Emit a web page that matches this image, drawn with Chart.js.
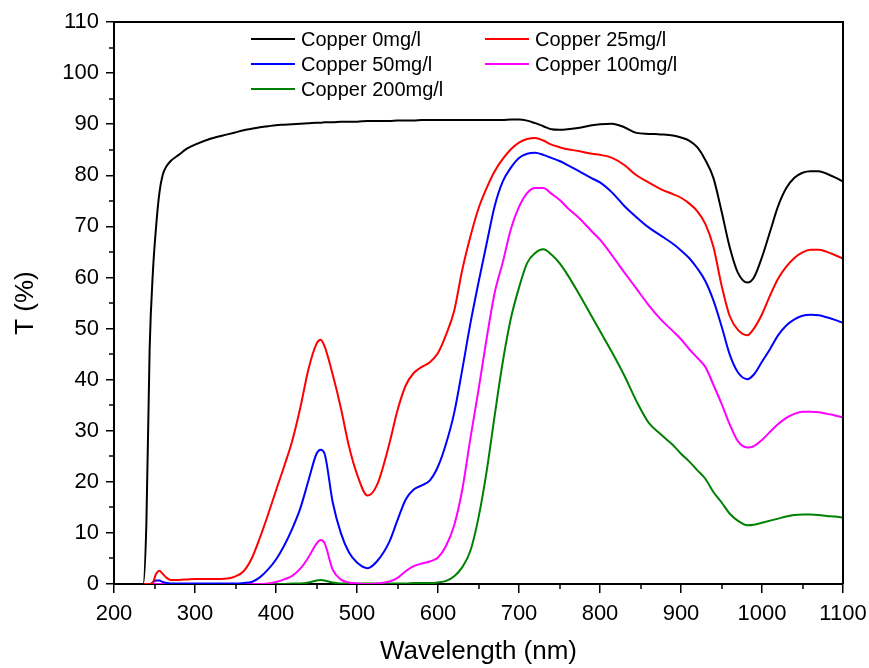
<!DOCTYPE html>
<html>
<head>
<meta charset="utf-8">
<script src="https://cdn.jsdelivr.net/npm/chart.js@4/dist/chart.umd.min.js"></script>
<style>
  html, body { margin: 0; padding: 0; background: #fff; }
  #wrap { width: 869px; height: 668px; }
</style>
</head>
<body>
<div id="wrap"><canvas id="transChart" width="869" height="668"></canvas></div>
<script>
// wavelength grid (nm)
const wavelength = [200, 230, 236, 240, 244, 248, 252, 256, 260, 265, 270, 280, 290, 300, 320, 340, 350, 360, 370, 380,
  390, 400, 410, 420, 430, 440, 450, 455, 460, 470, 480, 490, 500, 513, 525, 540, 550, 560, 570, 580,
  590, 600, 610, 620, 630, 640, 650, 660, 670, 680, 690, 700, 710, 720, 730, 740, 750, 760, 775, 790,
  800, 815, 830, 845, 860, 875, 890, 900, 910, 920, 930, 940, 950, 960, 970, 982, 990, 1000, 1010, 1020,
  1030, 1040, 1050, 1060, 1070, 1080, 1090, 1100];

// transmittance (%) per copper concentration
const cu0 = [0, 0, 0, 12, 46, 61, 70, 76.5, 80, 81.8, 82.8, 84, 85.2, 86, 87.2, 88, 88.4, 88.8, 89.1, 89.4,
  89.6, 89.8, 89.9, 90.0, 90.1, 90.2, 90.3, 90.3, 90.4, 90.4, 90.5, 90.5, 90.5, 90.6, 90.6, 90.6, 90.7, 90.7, 90.7, 90.8,
  90.8, 90.8, 90.8, 90.8, 90.8, 90.8, 90.8, 90.8, 90.8, 90.8, 90.9, 90.9, 90.7, 90.2, 89.6, 89.0, 88.9, 89.0, 89.3, 89.8,
  90.0, 90.1, 89.4, 88.3, 88.1, 88.0, 87.8, 87.4, 86.8, 85.5, 83, 79.5, 73, 66, 61, 59, 60, 64, 69, 74,
  77.5, 79.5, 80.5, 80.8, 80.8, 80.3, 79.6, 78.8];

const cu25 = [0, 0, 0, 0, 0, 0.3, 2.0, 2.6, 2.0, 1.2, 0.8, 0.8, 0.9, 1.0, 1.0, 1.1, 1.5, 2.5, 5, 9,
  13.5, 18.3, 23, 28, 34.5, 42, 47, 47.8, 46.5, 41, 34.5, 27, 21.5, 17.3, 19.5, 27.5, 34, 38.8, 41.3, 42.5,
  43.4, 45.2, 48.8, 53.5, 61.5, 68, 73.5, 77.5, 80.8, 83.2, 85.1, 86.4, 87.1, 87.3, 86.8, 86, 85.5, 85.1, 84.7, 84.2,
  84.0, 83.4, 82, 80, 78.6, 77.3, 76.3, 75.6, 74.5, 73, 70.5, 66, 58.5, 52.5, 49.8, 48.7, 50, 52.8, 56.5, 59.8,
  62.1, 63.8, 64.9, 65.4, 65.4, 65, 64.4, 63.7];

const cu50 = [0, 0, 0, 0, 0, 0.3, 0.7, 0.7, 0.4, 0.2, 0.1, 0.1, 0.1, 0.1, 0.1, 0.1, 0.1, 0.2, 0.4, 1.3,
  2.8, 4.8, 7.5, 10.8, 14.8, 20.2, 25.5, 26.3, 25.5, 16, 10, 6.2, 4.2, 3.1, 4.5, 8.3, 12.5, 16.5, 18.5, 19.3,
  20.3, 23, 27.5, 33.5, 42, 51, 59, 66.6, 74, 78.8, 81.5, 83.4, 84.2, 84.4, 84.0, 83.4, 82.8, 82, 80.7, 79.4,
  78.6, 76.6, 74, 71.8, 69.8, 68.2, 66.6, 65.3, 63.8, 61.8, 59.3, 55.5, 50.5, 45, 41.5, 40.1, 41, 43.5, 46, 48.7,
  50.6, 51.8, 52.5, 52.7, 52.6, 52.2, 51.7, 51.1];

const cu100 = [0, 0, 0, 0, 0, 0, 0, 0, 0, 0, 0, 0, 0, 0, 0, 0, 0, 0, 0, 0,
  0.1, 0.4, 0.9, 1.6, 3.0, 5.2, 7.9, 8.6, 8.0, 2.8, 0.9, 0.3, 0.1, 0, 0.1, 0.5, 1.2, 2.5, 3.5, 4.0,
  4.4, 5.2, 7.5, 11.5, 18.5, 28.5, 38, 48, 57, 63, 69.5, 73.8, 76.5, 77.5, 77.5, 76.4, 75.2, 73.6, 71.5, 69,
  67.4, 64.3, 61, 57.8, 54.6, 51.8, 49.5, 47.9, 46, 44.3, 42.5, 39, 35.3, 31.3, 28, 26.7, 27, 28.2, 29.8, 31.3,
  32.5, 33.3, 33.7, 33.7, 33.6, 33.3, 33, 32.6];

const cu200 = [0, 0, 0, 0, 0, 0, 0, 0, 0, 0, 0, 0, 0, 0, 0, 0, 0, 0, 0, 0,
  0, 0, 0, 0.1, 0.1, 0.3, 0.7, 0.8, 0.7, 0.3, 0.1, 0.1, 0.1, 0.1, 0.1, 0.1, 0.1, 0.1, 0.2, 0.2,
  0.2, 0.3, 0.6, 1.5, 3.3, 6.5, 13, 22, 33, 43.5, 52, 58, 62.8, 64.8, 65.5, 64.5, 62.8, 60.5, 56.5, 52.3,
  49.5, 45.3, 40.8, 35.8, 31.6, 29.3, 27.2, 25.5, 24, 22.3, 20.6, 18, 16, 13.8, 12.4, 11.5, 11.6, 12, 12.4, 12.8,
  13.2, 13.5, 13.6, 13.6, 13.5, 13.3, 13.2, 13.0];

const seriesLabels = ['Copper 0mg/l', 'Copper 25mg/l', 'Copper 50mg/l', 'Copper 100mg/l', 'Copper 200mg/l'];
const seriesColors = ['#000000', '#ff0000', '#0000ff', '#ff00ff', '#008000'];
const seriesValues = [cu0, cu25, cu50, cu100, cu200];

const FONT = '"Liberation Sans", Arial, sans-serif';

function toPoints(vals) {
  return wavelength.map((w, i) => ({ x: w, y: vals[i] }));
}

// minor ticks + top/right frame
const framePlugin = {
  id: 'frame',
  afterDraw(chart) {
    const c = chart.ctx;
    const a = chart.chartArea;
    const xs = chart.scales.x, ys = chart.scales.y;
    c.save();
    c.strokeStyle = '#000';
    c.lineWidth = 2;
    c.beginPath();
    c.moveTo(a.left, a.top); c.lineTo(a.right, a.top); c.lineTo(a.right, a.bottom);
    c.stroke();
    c.lineWidth = 1.5;
    c.beginPath();
    for (let v = 250; v < 1100; v += 100) {
      const px = Math.round(xs.getPixelForValue(v));
      c.moveTo(px, a.bottom); c.lineTo(px, a.bottom + 5);
    }
    for (let v = 5; v < 110; v += 10) {
      const py = Math.round(ys.getPixelForValue(v));
      c.moveTo(a.left, py); c.lineTo(a.left - 5, py);
    }
    c.stroke();
    c.restore();
  }
};

// two-column legend inside the plot
const legendPlugin = {
  id: 'gridLegend',
  afterDraw(chart) {
    const c = chart.ctx;
    const a = chart.chartArea;
    const colX = [a.left + 137, a.left + 371];
    const rowY = [a.top + 17, a.top + 42, a.top + 67];
    c.save();
    c.font = '20px ' + FONT;
    c.textBaseline = 'middle';
    c.fillStyle = '#000';
    chart.data.datasets.forEach((ds, i) => {
      const x = colX[i % 2], y = rowY[Math.floor(i / 2)];
      c.strokeStyle = ds.borderColor;
      c.lineWidth = 2;
      c.beginPath();
      c.moveTo(x, y); c.lineTo(x + 44, y);
      c.stroke();
      c.fillText(ds.label, x + 50, y + 1);
    });
    c.restore();
  }
};

const ctx = document.getElementById('transChart').getContext('2d');

const transChart = new Chart(ctx, {
  type: 'line',
  data: {
    datasets: seriesLabels.map((lab, i) => ({
      label: lab,
      data: toPoints(seriesValues[i]),
      borderColor: seriesColors[i],
      backgroundColor: seriesColors[i],
      borderWidth: 2,
      pointRadius: 0,
      cubicInterpolationMode: 'monotone',
      fill: false
    }))
  },
  options: {
    responsive: false,
    animation: false,
    layout: { padding: { top: 22, right: 2, bottom: 0, left: 0 } },
    plugins: {
      legend: { display: false },
      tooltip: { enabled: false }
    },
    scales: {
      x: {
        type: 'linear',
        min: 200,
        max: 1100,
        afterFit: (s) => { s.height = 84; s.paddingRight = 26; },
        ticks: { stepSize: 100, color: '#000', padding: 8, font: { family: FONT, size: 22 }, callback: (v) => String(v) },
        grid: { drawOnChartArea: false, color: '#000', lineWidth: 1.5, tickLength: 9 },
        border: { color: '#000', width: 2 },
        title: { display: true, text: 'Wavelength (nm)', color: '#000', font: { family: FONT, size: 26 }, padding: { top: 2, bottom: 1 } }
      },
      y: {
        min: 0,
        max: 110,
        afterFit: (s) => { s.width = 114; },
        ticks: { stepSize: 10, color: '#000', padding: 7, font: { family: FONT, size: 22 }, callback: (v) => String(v) },
        grid: { drawOnChartArea: false, color: '#000', lineWidth: 1.5, tickLength: 8 },
        border: { color: '#000', width: 2 },
        title: { display: true, text: 'T (%)', color: '#000', font: { family: FONT, size: 26 }, padding: { top: 10, bottom: 4 } }
      }
    }
  },
  plugins: [framePlugin, legendPlugin]
});
</script>
</body>
</html>
